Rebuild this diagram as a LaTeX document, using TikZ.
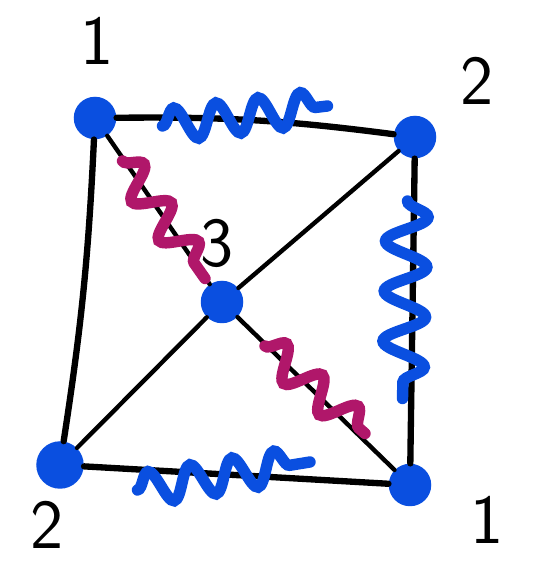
\documentclass[tikz,border=0pt]{standalone}
\usepackage{tikz}
\usetikzlibrary{decorations.pathmorphing}
\definecolor{dotblue}{HTML}{0A4FE0}
\definecolor{wavepurple}{HTML}{B0176A}
\tikzset{lbl/.style={draw=none, fill=none, minimum size=0pt,
  inner sep=1pt, font=\sffamily\fontsize{40}{44}\selectfont},
  wave/.style={line width=6.5pt, line cap=round, decorate,
  decoration={snake, amplitude=3.3mm, segment length=8.5mm}}}
\begin{document}
\begin{tikzpicture}[every node/.style={circle, fill=dotblue,
  minimum size=8.5mm, inner sep=0pt}, line cap=round]
  \useasboundingbox (0, 0) rectangle (10.66, 11.22);
  \node (tl) at (1.9, 8.86)  {};
  \node (tr) at (8.3, 8.48)  {};
  \node (c)  at (4.44, 5.18) {};
  \node[minimum size=9.5mm] (bl) at (1.2, 1.92)  {};
  \node (br) at (8.2, 1.52)  {};
  % Outer edges
  \draw[line width=3.6pt] (tl) to[bend left=4] (tr);
  \draw[line width=3.6pt] (tr) -- (br);
  \draw[line width=3.6pt] (br) -- (bl);
  \draw[line width=3.6pt] (bl) to[bend right=3] (tl);
  % Diagonals
  \draw[line width=2.5pt] (tl) -- (c) -- (br);
  \draw[line width=2.5pt] (tr) -- (c) -- (bl);
  % Wavy lines
  \coordinate (w1a) at (3.25, 8.7);
  \coordinate (w1b) at (6.55, 9.1);
  \coordinate (w2a) at (8.15, 7.2);
  \coordinate (w2b) at (8.05, 3.25);
  \coordinate (w3a) at (2.75, 1.42);
  \coordinate (w3b) at (6.2, 1.98);
  \coordinate (w4a) at (2.45, 8.0);
  \coordinate (w4b) at (4.1, 5.65);
  \coordinate (w5a) at (5.3, 4.3);
  \coordinate (w5b) at (7.3, 2.55);
  \draw[wave, dotblue] (w1a) -- (w1b);
  \draw[wave, dotblue, decoration={amplitude=4.2mm,
    segment length=10mm}] (w2a) -- (w2b);
  \draw[wave, dotblue] (w3a) -- (w3b);
  \draw[wave, wavepurple, decoration={amplitude=3.2mm,
    segment length=9.5mm}] (w4a) -- (w4b);
  \draw[wave, wavepurple, decoration={amplitude=3.2mm,
    segment length=9.5mm}] (w5a) -- (w5b);
  % Labels
  \node[lbl] (l1) at (1.95, 10.4) {1};
  \node[lbl] (l2) at (9.55, 9.6)  {2};
  \node[lbl] (l3) at (4.35, 6.35) {3};
  \node[lbl] (l4) at (0.95, 0.72) {2};
  \node[lbl] (l5) at (9.75, 0.82) {1};
\end{tikzpicture}
\end{document}
